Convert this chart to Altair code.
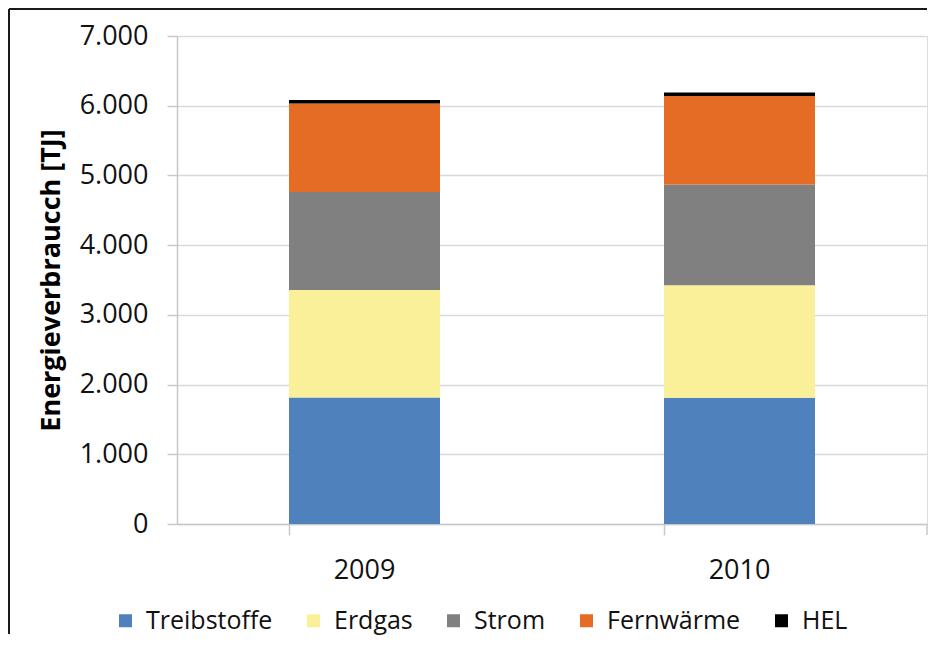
import altair as alt
import pandas as pd

years = ["2009", "2010"]
categories = ["Treibstoffe", "Erdgas", "Strom", "Fernwärme", "HEL"]
colors = ["#4f81bd", "#faf09a", "#808080", "#e46c24", "#000000"]
treibstoffe = [1815, 1810]
erdgas = [1542, 1616]
strom = [1404, 1445]
fernwaerme = [1272, 1268]
hel = [48, 51]

series = [treibstoffe, erdgas, strom, fernwaerme, hel]
rows = []
for ci, (cat, vals) in enumerate(zip(categories, series)):
    for yi, y in enumerate(years):
        rows.append({"Jahr": y, "Energieträger": cat, "Wert": vals[yi], "idx": ci})
df = pd.DataFrame(rows)

W, H = 750, 488
FONT = "Open Sans"

bars = alt.Chart(df).mark_bar(size=151).encode(
    x=alt.X("Jahr:N", title=None,
            scale=alt.Scale(paddingInner=0.6, paddingOuter=0.3),
            axis=alt.Axis(labelAngle=0, labelFontSize=27, labelFont=FONT,
                          labelColor="#111", domainColor="#c8c8c8", domainWidth=1.5,
                          tickColor="#c8c8c8", tickWidth=1.5, tickSize=11,
                          bandPosition=0, labelPadding=22, grid=False)),
    y=alt.Y("Wert:Q", stack="zero", title="Energieverbraucch [TJ]",
            scale=alt.Scale(domain=[0, 7000], nice=False),
            axis=alt.Axis(values=[0, 1000, 2000, 3000, 4000, 5000, 6000, 7000],
                          labelExpr="replace(format(datum.value, ',d'), ',', '.')",
                          labelFontSize=27, labelFont=FONT, labelColor="#111",
                          labelPadding=19, tickSize=10, tickColor="#c8c8c8", tickWidth=1.5,
                          domainColor="#c8c8c8", domainWidth=1.5,
                          gridColor="#d9d9d9", gridWidth=1.5,
                          titleFont=FONT, titleFontSize=27, titleFontWeight="bold",
                          titleColor="#000", titlePadding=14)),
    color=alt.Color("Energieträger:N",
                    scale=alt.Scale(domain=categories, range=colors),
                    legend=alt.Legend(title=None, orient="none", direction="horizontal",
                                      legendX=-64, legendY=572,
                                      symbolType="square", symbolSize=169,
                                      symbolStrokeWidth=0, labelFontSize=25,
                                      labelFont=FONT, labelColor="#111",
                                      labelOffset=8, columnPadding=28, padding=0)),
    order=alt.Order("idx:Q"),
)

# right-end tick of category axis
end_tick = alt.Chart(pd.DataFrame({"a": [0]})).mark_rule(color="#c8c8c8", strokeWidth=1.5).encode(
    x=alt.value(W), y=alt.value(H), y2=alt.value(H + 11)
)

# figure frame (left and top edges)
frame_left = alt.Chart(pd.DataFrame({"a": [0]})).mark_rule(color="#1a1a1a", strokeWidth=2).encode(
    x=alt.value(-168), y=alt.value(-27), y2=alt.value(H + 110)
)
frame_top = alt.Chart(pd.DataFrame({"a": [0]})).mark_rule(color="#1a1a1a", strokeWidth=2).encode(
    x=alt.value(-168), x2=alt.value(W), y=alt.value(-27)
)

chart = alt.layer(bars, end_tick, frame_left, frame_top).properties(
    width=W, height=H, padding=0
).configure_view(stroke=None).configure(background="white")

chart.save("out.html", embed_options={"renderer": "svg", "actions": False})
